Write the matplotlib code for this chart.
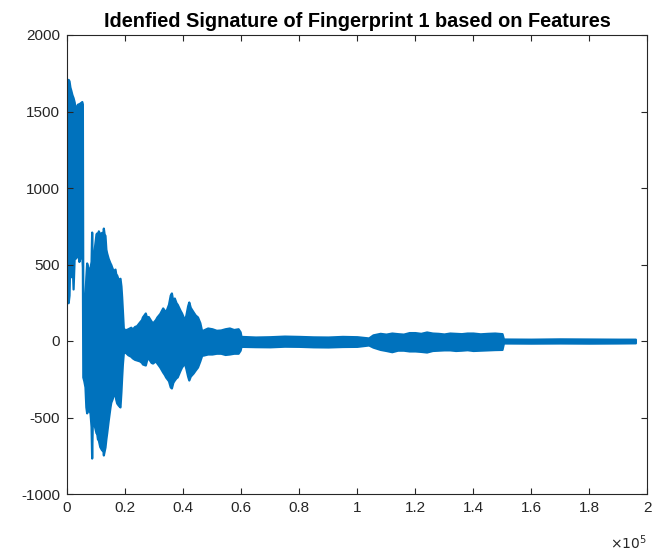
import matplotlib
matplotlib.use("Agg")
import matplotlib.pyplot as plt

# Envelope of the signal (sample index, upper value, lower value)
sample_idx = [
    200, 400, 700, 1000, 1300, 1700, 2100, 2500, 2800, 3200, 3500, 3800, 4100, 4400, 4800, 5100, 5300,
    5450, 5800, 6200, 6500, 6780, 7300, 7931, 8300, 8506, 8700, 9080, 9500, 10000, 10230,
    10500, 10800, 11300, 11950, 12300, 12530, 12800, 13100, 13400, 13680, 14200, 14830,
    15100, 15400, 15900, 16550, 16800, 17130, 17700, 18270, 18600, 18850, 19100, 19420,
    20000, 21000, 22000, 22500, 23300, 24000, 25000, 25700, 26000, 27000, 27500, 28000,
    29000, 29500, 30500, 31000, 32000, 33000, 33600, 34000, 35000, 35600, 36000, 36500,
    37000, 37600, 38000, 39000, 39500, 40500, 41000, 41600, 42000, 42500, 43500, 44200,
    45000, 45800, 46500,
    47000, 48500, 50000, 51500, 53000, 54500, 56000, 57500, 59000, 59700,
    60000, 65000, 70000, 75000, 80000, 85000, 90000, 95000, 100000, 104000,
    105500, 108000, 110000, 112000, 114000, 116000, 118000, 120000, 122000, 124000,
    126000, 128000, 130000, 132000, 134000, 136000, 138000, 140000, 142500, 145000,
    147500, 150000,
    150500, 160000, 170000, 180000, 190000, 196000,
]
upper_env = [
    1690, 1710, 1700, 1660, 1640, 1610, 1590, 1560, 1510, 1530, 1545, 1550, 1530, 1555, 1560, 1565, 1550,
    220, 260, 300, 420, 510, 470, 480, 520, 712, 520, 510, 620, 700, 706,
    640, 720, 700, 710, 690, 738, 700, 690, 600, 575, 540, 510,
    500, 484, 460, 470, 440, 431, 400, 410, 360, 288, 200, 85,
    72, 80, 90, 78, 95, 100, 124, 140, 157, 183, 150, 160,
    130, 118, 140, 157, 180, 216, 200, 190, 240, 300, 314, 260,
    281, 250, 240, 200, 183, 137, 170, 230, 255, 220, 190, 170,
    157, 120, 60,
    72, 85, 80, 70, 72, 80, 85, 75, 80, 60,
    30, 26, 28, 32, 30, 27, 26, 30, 28, 20,
    40, 50, 45, 52, 48, 45, 55, 55, 50, 59,
    52, 50, 46, 52, 50, 48, 52, 52, 47, 50,
    52, 48,
    13, 12, 14, 13, 12, 12,
]
lower_env = [
    260, 250, 300, 560, 420, 550, 340, 560, 540, 550, 580, 560, 520, 540, 560, 560, 480,
    -235, -260, -300, -431, -470, -440, -470, -560, -765, -560, -516, -560, -600, -601,
    -640, -647, -690, -712, -700, -745, -720, -693, -640, -601, -520, -431,
    -400, -386, -360, -340, -380, -405, -420, -431, -330, -235, -150, -78,
    -72, -90, -100, -110, -120, -124, -130, -140, -150, -157, -120, -111,
    -140, -144, -130, -144, -170, -203, -220, -235, -260, -300, -307, -270,
    -255, -240, -235, -190, -170, -144, -180, -230, -255, -230, -209, -190,
    -170, -130, -90,
    -92, -85, -85, -80, -80, -88, -85, -80, -80, -60,
    -35, -37, -38, -34, -35, -38, -39, -36, -35, -26,
    -40, -55, -62, -70, -60, -60, -65, -65, -68, -72,
    -62, -60, -58, -58, -62, -60, -57, -62, -60, -58,
    -56, -55,
    -13, -14, -13, -14, -13, -12,
]

title_text = "Idenfied Signature of Fingerprint 1 based on Features"
xtick_vals = [0, 20000, 40000, 60000, 80000, 100000, 120000, 140000, 160000, 180000, 200000]
xtick_labels = ["0", "0.2", "0.4", "0.6", "0.8", "1", "1.2", "1.4", "1.6", "1.8", "2"]
ytick_vals = [-1000, -500, 0, 500, 1000, 1500, 2000]
ytick_labels = ["-1000", "-500", "0", "500", "1000", "1500", "2000"]

plt.rcParams['font.family'] = ['Liberation Sans', 'DejaVu Sans']
plt.rcParams['axes.unicode_minus'] = False
fig = plt.figure(figsize=(6.57, 5.55), dpi=100)
ax = fig.add_axes([67/657, 61/555, 580/657, 459/555])

line_col = '#0072BD'
ax.fill_between(sample_idx, lower_env, upper_env, color=line_col, linewidth=1.6,
                edgecolor=line_col)

ax.set_xlim(0, 200000)
ax.set_ylim(-1000, 2000)
ax.set_xticks(xtick_vals)
ax.set_xticklabels(xtick_labels)
ax.set_yticks(ytick_vals)
ax.set_yticklabels(ytick_labels)
axis_col = '#262626'
for s in ax.spines.values():
    s.set_color(axis_col)
    s.set_linewidth(0.8)
ax.tick_params(direction='in', top=True, right=True, length=4, width=0.8,
               colors=axis_col, labelsize=11, pad=5)
ax.set_title(title_text, fontsize=14.3, fontweight='bold', color='#000000', pad=6)
ax.text(1.0, -0.085, r"$\times10^5$", transform=ax.transAxes, ha='right', va='top',
        fontsize=10, color='#262626')

fig.savefig("out.png", dpi=100)
